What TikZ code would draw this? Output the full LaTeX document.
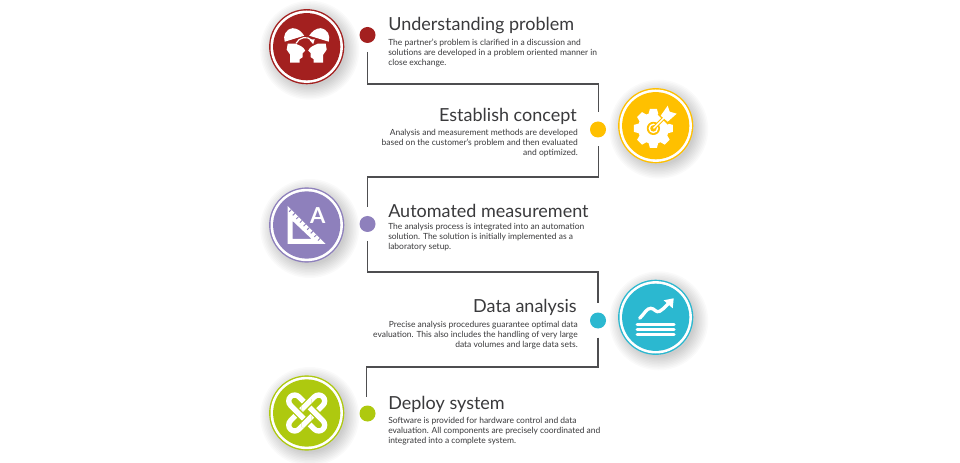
\documentclass[tikz,border=0pt]{standalone}
\usepackage{fontspec}
\setmainfont{Lato}
\usetikzlibrary{calc}
\definecolor{cred}{HTML}{A3201F}
\definecolor{cyel}{HTML}{FFC000}
\definecolor{cpur}{HTML}{8E80BC}
\definecolor{ccya}{HTML}{2BB8D0}
\definecolor{cgrn}{HTML}{AEC90F}
\definecolor{ctxt}{HTML}{3A3A3C}
\tikzset{
  x=0.75pt,y=-0.75pt,
  dotnode/.style={circle,minimum size=12pt,inner sep=0pt,fill=#1},
  conn/.style={draw=ctxt!90,line width=0.9pt,shorten >=17*0.75pt,shorten <=17*0.75pt},
  head/.style={font=\fontsize{13.5pt}{16pt}\selectfont,text=ctxt,inner sep=0pt},
  bodyl/.style={font=\fontsize{6.35pt}{7.5pt}\selectfont,text=ctxt,inner sep=0pt,align=left,anchor=north west},
  bodyr/.style={font=\fontsize{6.35pt}{7.5pt}\selectfont,text=ctxt,inner sep=0pt,align=right,anchor=north east},
  iconline/.style={draw=white,line cap=round,line join=round},
}
\newcommand{\badge}[2]{%
  \begin{scope}[shift={(#1)}]
    \foreach \r in {36,37.5,...,49.5}{
      \fill[black,opacity=0.018] (3,3.5) circle (\r*0.75pt);
    }
    \fill[#2] (0,0) circle (37.6*0.75pt);
    \fill[white] (0,0) circle (36.2*0.75pt);
    \fill[#2] (0,0) circle (33.6*0.75pt);
  \end{scope}}
\begin{document}
\begin{tikzpicture}
\useasboundingbox (0,0) rectangle (960,463);
\fill[white] (0,0) rectangle (960,463);
% dots
\node[dotnode=cred] (d1) at (367.5,35) {};
\node[dotnode=cyel] (d2) at (598,129.5) {};
\node[dotnode=cpur] (d3) at (367.5,224) {};
\node[dotnode=ccya] (d4) at (598,320.5) {};
\node[dotnode=cgrn] (d5) at (367.5,413.5) {};
% corners
\coordinate (a1) at (367.5,84);  \coordinate (b1) at (598.5,84);
\coordinate (a2) at (598.5,177); \coordinate (b2) at (367.5,177);
\coordinate (a3) at (367.5,272); \coordinate (b3) at (598,272);
\coordinate (a4) at (598,367);   \coordinate (b4) at (366.5,367);
\draw[conn] (d1.center) -- (a1) -- (b1) -- (598.5,129.5);
\draw[conn] (598.5,129.5) -- (a2) -- (b2) -- (d3.center);
\draw[conn] (d3.center) -- (a3) -- (b3) -- (d4.center);
\draw[conn] (d4.center) -- (a4) -- (b4) -- (366.5,413.5);
% badges
\badge{306.7,46.7}{cred}
\badge{655.7,125.7}{cyel}
\badge{306.7,225}{cpur}
\badge{655.7,317.3}{ccya}
\badge{306.7,413}{cgrn}
% icon 1: two heads
\begin{scope}[shift={(306.7,46.7)}]
  \foreach \s in {1,-1}{
  \begin{scope}[xscale=\s]
    \fill[white] (-19,-3) -- (-11,-3) .. controls (-7,-1) and (-3,0) .. (-1.5,4) -- (-4,6.5) -- (-4,10.5) -- (-7,12.5)
       -- (-7,16) -- (-16.5,16) -- (-16.5,8) -- (-20,3) -- cycle;
    \fill[white] (-22,-5) .. controls (-24,-11) and (-21,-17.5) .. (-14,-18.5)
      .. controls (-9,-18.5) and (-5,-15) .. (-2.5,-11) -- cycle;
  \end{scope}}
  \draw[white,line width=0.9pt,line cap=round] (-10.5,-3.5) .. controls (-8,-9.5) and (1,-11) .. (5,-6.5);
  \fill[white] (2.8,-6.8) -- (8,-7.5) -- (6.5,-2.5) -- cycle;
\end{scope}
% icon 2: gear and arrow
\begin{scope}[shift={(655.7,125.7)}]
  \begin{scope}[shift={(-2.3,2.7)}]
  \fill[white] (0,0) circle (15.5);
  \foreach \a in {0,45,...,315}{
    \fill[white,rotate=\a] (-5,-14) -- (-3.5,-19.5) -- (3.5,-19.5) -- (5,-14) -- cycle;
  }
  \fill[cyel] (0,0) circle (6.6);
  \fill[white] (0,0) circle (4.8);
  \fill[cyel] (0,0) circle (3.2);
  \end{scope}
  \draw[cyel,line width=2.6pt] (-2.3,2.7) -- (12,-11.5);
  \fill[cyel] (2,-11) -- (11,-23) -- (24,-13) -- (12,-1) -- cycle;
  \draw[white,line width=1pt] (-2.3,2.7) -- (12,-11.5);
  \fill[white] (5,-10) -- (12,-20) -- (14,-14) -- (21,-12) -- (12,-4) -- cycle;
\end{scope}
% icon 3: set square and A
\begin{scope}[shift={(306.7,225)}]
  \fill[white,even odd rule] (-19,-19) -- (-19,19) -- (19,19) -- cycle
     (-14,-4) -- (-14,14) -- (5,14) -- cycle;
  \foreach \t in {1,...,9}{
    \draw[cpur,line width=0.7pt] ($(-19,-19)+(\t*3.6,\t*3.6)$) -- ++(-2.2,2.2);
  }
  \node[font=\bfseries\fontsize{16.5pt}{17pt}\selectfont,text=white,inner sep=0pt] (lA) at (11,-9.5) {A};
\end{scope}
% icon 4: chart and stack
\begin{scope}[shift={(655.7,317.3)}]
  \draw[iconline,line width=2.5pt] (-16,1) .. controls (-11,-4) and (-9,-9) .. (-5,-9)
     .. controls (-1,-9) and (0,-4) .. (4,-6) .. controls (7,-7.5) and (9,-10) .. (13,-14);
  \fill[white] (8,-17) -- (18,-19) -- (17,-9) -- cycle;
  \foreach \yy in {7,12.4,17.6}{
    \draw[iconline,line width=2.3pt] (-18.5,\yy) -- (18.5,\yy);
  }
\end{scope}
% icon 5: interlaced rings
\begin{scope}[shift={(306.7,413)}]
  \draw[white,line width=4pt,rotate=45,rounded corners=4.6pt] (-23,-6) rectangle (23,6);
  \draw[cgrn,line width=6pt,rotate=-45,rounded corners=4.6pt] (-23,-6) rectangle (23,6);
  \draw[white,line width=4pt,rotate=-45,rounded corners=4.6pt] (-23,-6) rectangle (23,6);
  \begin{scope}
    \clip (-5,-14) rectangle (5,-3) (-5,3) rectangle (5,14);
    \draw[cgrn,line width=6pt,rotate=45,rounded corners=4.6pt] (-23,-6) rectangle (23,6);
    \draw[white,line width=4pt,rotate=45,rounded corners=4.6pt] (-23,-6) rectangle (23,6);
  \end{scope}
\end{scope}
% texts
\node[head,anchor=west] (h1) at (388,25.5) {Understanding problem};
\node[bodyl] (t1) at (388,38.5) {The partner's problem is clarified in a discussion and\\solutions are developed in a problem oriented manner in\\close exchange.};
\node[head,anchor=east] (h2) at (577,116.5) {Establish concept};
\node[bodyr] (t2) at (578,129) {Analysis and measurement methods are developed\\based on the customer's problem and then evaluated\\and optimized.};
\node[head,anchor=west] (h3) at (388,211) {Automated measurement};
\node[bodyl] (t3) at (388,223) {The analysis process is integrated into an automation\\solution. The solution is initially implemented as a\\laboratory setup.};
\node[head,anchor=east] (h4) at (577,307.5) {Data analysis};
\node[bodyr] (t4) at (578,320.5) {Precise analysis procedures guarantee optimal data\\evaluation. This also includes the handling of very large\\data volumes and large data sets.};
\node[head,anchor=west] (h5) at (388,404.5) {Deploy system};
\node[bodyl] (t5) at (388,417) {Software is provided for hardware control and data\\evaluation. All components are precisely coordinated and\\integrated into a complete system.};
\end{tikzpicture}
\end{document}
